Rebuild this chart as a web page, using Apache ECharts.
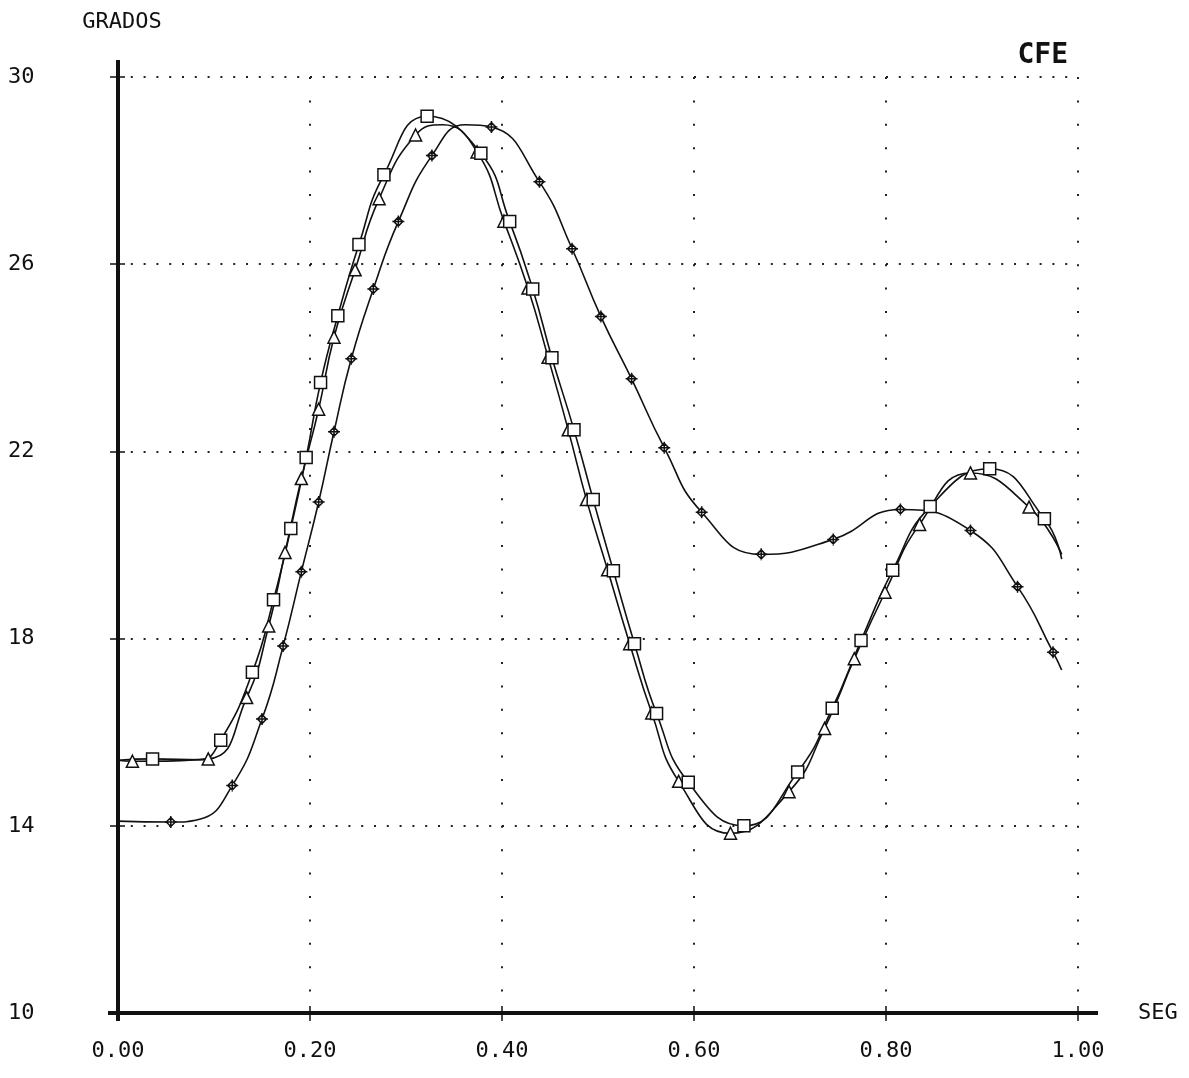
<!DOCTYPE html>
<html>
<head>
<meta charset="utf-8">
<title>CFE</title>
<script src="https://cdn.jsdelivr.net/npm/echarts@6/dist/echarts.min.js"></script>
<style>
  html, body { margin: 0; padding: 0; background: #fff; }
  #chart { width: 1189px; height: 1078px; }
</style>
</head>
<body>
<div id="chart"></div>
<script>
// Tick values of both axes (SEG horizontally, GRADOS vertically)
const ticksX = [0, 0.2, 0.4, 0.6, 0.8, 1.0];
const ticksY = [10, 14, 18, 22, 26, 30];

// Curve with square markers: [seg, grados]
const cuadrados = [
  [0.036, 15.43], [0.107, 15.83], [0.140, 17.28], [0.162, 18.83], [0.180, 20.35],
  [0.196, 21.87], [0.211, 23.47], [0.229, 24.90], [0.251, 26.42], [0.277, 27.91],
  [0.322, 29.16], [0.378, 28.37], [0.408, 26.91], [0.432, 25.47], [0.452, 24.00],
  [0.475, 22.46], [0.495, 20.97], [0.516, 19.45], [0.538, 17.89], [0.561, 16.40],
  [0.594, 14.93], [0.652, 14.00], [0.708, 15.15], [0.744, 16.51], [0.774, 17.96],
  [0.807, 19.46], [0.846, 20.82], [0.908, 21.63], [0.965, 20.56]
];
// Points of the same curve drawn without a marker (start, end of the flat part, end)
const cuadradosGuia = [[0, 15.40], [0.085, 15.41], [0.983, 19.70]];

// Curve with triangle markers
const triangulos = [
  [0.015, 15.38], [0.094, 15.43], [0.134, 16.74], [0.157, 18.27], [0.174, 19.84],
  [0.191, 21.42], [0.209, 22.90], [0.225, 24.44], [0.247, 25.88], [0.272, 27.40],
  [0.310, 28.76], [0.374, 28.40], [0.402, 26.92], [0.427, 25.49], [0.448, 24.01],
  [0.469, 22.46], [0.488, 20.97], [0.510, 19.47], [0.533, 17.89], [0.556, 16.41],
  [0.584, 14.95], [0.638, 13.84], [0.699, 14.73], [0.736, 16.08], [0.767, 17.57],
  [0.799, 18.99], [0.835, 20.44], [0.888, 21.54], [0.949, 20.81]
];
// Start, top of the peak and end of the triangle curve
const triangulosGuia = [[0, 15.40], [0.338, 28.98], [0.983, 19.80]];

// Curve with diamond markers
const rombos = [
  [0.055, 14.08], [0.119, 14.86], [0.150, 16.28], [0.172, 17.84], [0.191, 19.43],
  [0.209, 20.92], [0.225, 22.42], [0.243, 23.98], [0.266, 25.47], [0.292, 26.91],
  [0.327, 28.32], [0.389, 28.93], [0.439, 27.76], [0.473, 26.33], [0.503, 24.88],
  [0.535, 23.55], [0.569, 22.08], [0.608, 20.70], [0.670, 19.80], [0.745, 20.12],
  [0.815, 20.76], [0.888, 20.31], [0.937, 19.11], [0.974, 17.71]
];
const rombosGuia = [[0, 14.10], [0.085, 14.14], [0.362, 28.98], [0.983, 17.33]];

const FONT = 'DejaVu Sans Mono';
const INK = '#111';

// Diamond with a cross through it
const ROMBO_PATH = 'path://M0,-6L6,0L0,6L-6,0Z M0,-8L0,8 M-8,0L8,0';

function curva(marcas, guia, symbol, size) {
  const data = marcas.map(p => ({ value: p }))
    .concat(guia.map(p => ({ value: p, symbol: 'none' })))
    .sort((a, b) => a.value[0] - b.value[0]);
  return {
    type: 'line',
    data: data,
    xAxisIndex: 0,
    yAxisIndex: 0,
    smooth: 0.5,
    symbol: symbol,
    symbolSize: size,
    showAllSymbol: true,
    lineStyle: { color: INK, width: 1.6 },
    itemStyle: { color: '#fff', borderColor: INK, borderWidth: 1.5 },
    emphasis: { disabled: true },
    animation: false,
    z: 3
  };
}

const xMin = ticksX[0], xMax = ticksX[ticksX.length - 1];
const yMin = ticksY[0], yMax = ticksY[ticksY.length - 1];

const ejeXBase = {
  type: 'value',
  min: xMin, max: xMax, interval: ticksX[1] - ticksX[0],
  position: 'bottom'
};
const ejeYBase = {
  type: 'value',
  min: yMin, max: yMax, interval: ticksY[1] - ticksY[0],
  position: 'left'
};

const option = {
  backgroundColor: '#fff',
  animation: false,
  title: {
    text: 'CFE',
    right: 116,
    top: 37,
    textStyle: { fontFamily: FONT, fontSize: 28, fontWeight: 'bold', color: INK }
  },
  grid: { left: 118, right: 111, top: 77, bottom: 65, containLabel: false },
  xAxis: [
    Object.assign({}, ejeXBase, {
      name: 'SEG',
      nameLocation: 'end',
      nameGap: 60,
      nameTextStyle: { fontFamily: FONT, fontSize: 22, color: INK },
      axisLine: {
        show: true,
        lineStyle: { color: INK, width: 4 },
        symbol: ['rect', 'rect'],
        symbolSize: [4, 40],
        symbolOffset: [10, 0]
      },
      axisTick: { show: true, length: 8, lineStyle: { color: INK, width: 1.5 } },
      axisLabel: {
        margin: 27,
        fontFamily: FONT, fontSize: 22, color: INK,
        formatter: v => v.toFixed(2)
      },
      splitLine: {
        show: true,
        lineStyle: { color: '#222', width: 2, type: [2, 21.4] }
      }
    }),
    Object.assign({}, ejeXBase, {
      axisLine: { show: false },
      axisTick: { show: true, inside: true, length: 7, lineStyle: { color: INK, width: 1.5 } },
      axisLabel: { show: false },
      splitLine: { show: false }
    })
  ],
  yAxis: [
    Object.assign({}, ejeYBase, {
      name: 'GRADOS',
      nameLocation: 'end',
      nameGap: 44,
      nameTextStyle: { fontFamily: FONT, fontSize: 22, color: INK, align: 'center', padding: [0, 0, 0, 8] },
      axisLine: {
        show: true,
        lineStyle: { color: INK, width: 4 },
        symbol: ['rect', 'rect'],
        symbolSize: [4, 34],
        symbolOffset: [9, 0]
      },
      axisTick: { show: true, length: 8, lineStyle: { color: INK, width: 1.5 } },
      axisLabel: {
        margin: 110,
        align: 'left',
        fontFamily: FONT, fontSize: 22, color: INK
      },
      splitLine: {
        show: true,
        lineStyle: { color: '#222', width: 2, type: [2, 10.8] }
      }
    }),
    Object.assign({}, ejeYBase, {
      axisLine: { show: false },
      axisTick: { show: true, inside: true, length: 7, lineStyle: { color: INK, width: 1.5 } },
      axisLabel: { show: false },
      splitLine: { show: false }
    })
  ],
  series: [
    curva(rombos, rombosGuia, ROMBO_PATH, 12),
    curva(triangulos, triangulosGuia, 'triangle', 12),
    curva(cuadrados, cuadradosGuia, 'rect', 12)
  ]
};

const chart = echarts.init(document.getElementById('chart'), null, { renderer: 'canvas' });
chart.setOption(option);
</script>
</body>
</html>
